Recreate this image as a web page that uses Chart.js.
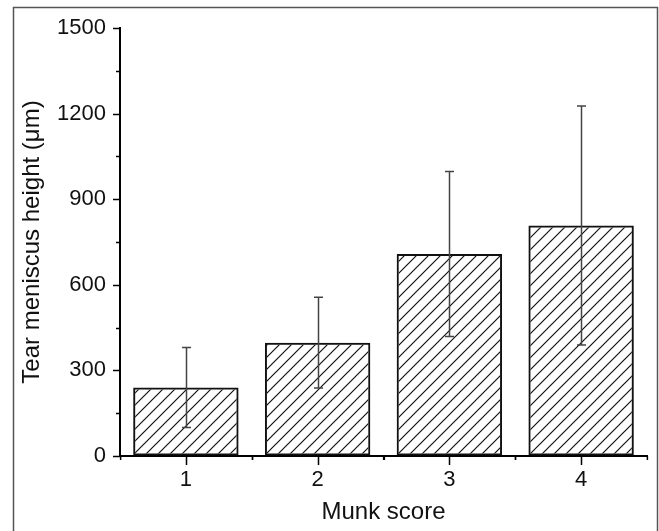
<!DOCTYPE html>
<html>
<head>
<meta charset="utf-8">
<title>Tear meniscus height by Munk score</title>
<script src="https://cdn.jsdelivr.net/npm/chart.js@4/dist/chart.umd.min.js"></script>
<style>
  html, body { margin: 0; padding: 0; background: #fff; }
  canvas { display: block; }
</style>
</head>
<body>
<canvas id="munkChart" width="659" height="531"></canvas>
<script>
// data
const munkScores = ['1', '2', '3', '4'];
const meanHeight = [240, 397, 708, 808];
const sdHeight = [140, 159, 289, 419];
const yTickValues = [0, 300, 600, 900, 1200, 1500];

const FONT = 'Liberation Sans, Arial, Helvetica, sans-serif';

// diagonal "/" hatch for the bars
function makeHatch() {
    const s = 12;
    const c = document.createElement('canvas');
    c.width = s; c.height = s;
    const g = c.getContext('2d');
    g.strokeStyle = '#111';
    g.lineWidth = 1.2;
    g.beginPath();
    g.moveTo(0, s); g.lineTo(s, 0);
    g.moveTo(-2, 2); g.lineTo(2, -2);
    g.moveTo(s - 2, s + 2); g.lineTo(s + 2, s - 2);
    g.stroke();
    return g.createPattern(c, 'repeat');
}

// error bars (mean +/- sd) on top of the bars
const errorBars = {
    id: 'errorBars',
    afterDatasetsDraw(chart) {
        const { ctx, scales: { x, y } } = chart;
        ctx.save();
        ctx.strokeStyle = '#444';
        ctx.lineWidth = 1.5;
        meanHeight.forEach((m, i) => {
            const px = Math.round(x.getPixelForValue(i)) + 0.5;
            const top = y.getPixelForValue(m + sdHeight[i]);
            const bot = y.getPixelForValue(m - sdHeight[i]);
            ctx.beginPath();
            ctx.moveTo(px, top); ctx.lineTo(px, bot);
            ctx.moveTo(px - 4.5, top); ctx.lineTo(px + 4.5, top);
            ctx.moveTo(px - 4.5, bot); ctx.lineTo(px + 4.5, bot);
            ctx.stroke();
        });
        ctx.restore();
    }
};

// outward major/minor tick marks, plus the figure frame
const axisDecor = {
    id: 'axisDecor',
    afterDraw(chart) {
        const { ctx, chartArea, scales: { x, y } } = chart;
        ctx.save();
        ctx.strokeStyle = '#000';
        ctx.lineWidth = 1.5;
        ctx.beginPath();
        y.ticks.forEach(t => {
            const py = Math.round(y.getPixelForValue(t.value)) + 0.5;
            const len = yTickValues.includes(t.value) ? 7 : 4;
            ctx.moveTo(chartArea.left - len, py);
            ctx.lineTo(chartArea.left, py);
        });
        const half = (x.getPixelForValue(1) - x.getPixelForValue(0)) / 2;
        munkScores.forEach((_, i) => {
            const px = Math.round(x.getPixelForValue(i)) + 0.5;
            ctx.moveTo(px, chartArea.bottom); ctx.lineTo(px, chartArea.bottom + 9);
            ctx.moveTo(px - half, chartArea.bottom); ctx.lineTo(px - half, chartArea.bottom + 4);
            ctx.moveTo(px + half, chartArea.bottom); ctx.lineTo(px + half, chartArea.bottom + 4);
        });
        ctx.stroke();

        // frame round the figure (bottom edge is cut off)
        ctx.strokeStyle = '#555';
        ctx.lineWidth = 1.5;
        ctx.beginPath();
        ctx.moveTo(13.5, 540);
        ctx.lineTo(13.5, 7.5);
        ctx.lineTo(657.5, 7.5);
        ctx.lineTo(657.5, 540);
        ctx.stroke();
        ctx.restore();
    }
};

new Chart(document.getElementById('munkChart').getContext('2d'), {
    type: 'bar',
    data: {
        labels: munkScores,
        datasets: [{
            data: meanHeight,
            backgroundColor: makeHatch(),
            borderColor: '#111',
            borderWidth: 2,
            borderSkipped: false,
            categoryPercentage: 1,
            barPercentage: 0.8
        }]
    },
    options: {
        responsive: false,
        animation: false,
        devicePixelRatio: 1,
        layout: { padding: { top: 28, right: 12, left: 0, bottom: 0 } },
        plugins: { legend: { display: false }, tooltip: { enabled: false } },
        scales: {
            x: {
                offset: true,
                grid: { display: true, drawOnChartArea: false, drawTicks: false },
                border: { display: true, color: '#000', width: 2 },
                ticks: { color: '#111', padding: 11, font: { family: FONT, size: 22 } },
                title: {
                    display: true, text: 'Munk score', color: '#111',
                    padding: { top: 0, bottom: 4 },
                    font: { family: FONT, size: 24 }
                },
                afterFit(scale) { scale.height = 75; }
            },
            y: {
                min: 0, max: 1500,
                grid: { display: true, drawOnChartArea: false, drawTicks: false },
                border: { display: true, color: '#000', width: 2 },
                ticks: {
                    stepSize: 150,
                    color: '#111',
                    padding: 14,
                    font: { family: FONT, size: 22 },
                    callback: v => yTickValues.includes(v) ? v : ''
                },
                title: {
                    display: true, text: 'Tear meniscus height (μm)', color: '#111',
                    padding: { top: 18, bottom: 0 },
                    font: { family: FONT, size: 24 }
                },
                afterFit(scale) { scale.width = 120; }
            }
        }
    },
    plugins: [errorBars, axisDecor]
});
</script>
</body>
</html>
